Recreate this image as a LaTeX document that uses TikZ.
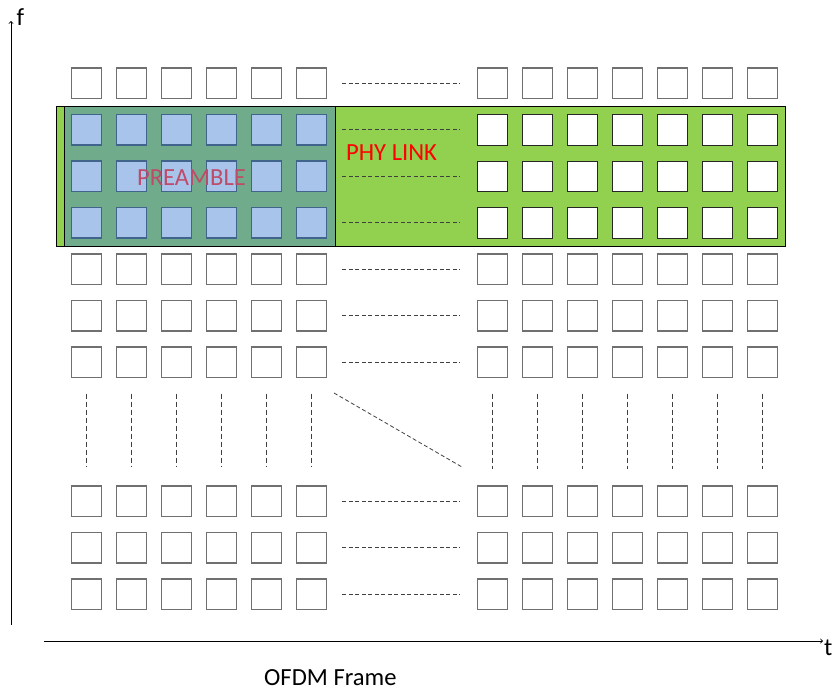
\documentclass[tikz,border=0pt]{standalone}
\usepackage{fontspec}
\setmainfont{Carlito}
\definecolor{linkgreen}{RGB}{146,208,80}
\definecolor{preamgreen}{RGB}{112,172,140}
\definecolor{cellblue}{RGB}{169,196,234}
\definecolor{cellblueline}{RGB}{65,100,140}
\definecolor{cellgray}{RGB}{112,112,112}
\definecolor{preamtext}{RGB}{190,75,105}
\begin{document}
\begin{tikzpicture}[x=1pt,y=-1pt,
  cell/.style={draw=cellgray,fill=white,line width=1.1pt,minimum width=30pt,minimum height=30.5pt,inner sep=0pt},
  linkcell/.style={cell,draw=black!85,line width=0.9pt},
  preamcell/.style={cell,draw=cellblueline,fill=cellblue},
  gap/.style={dashed,dash pattern=on 4pt off 2.5pt,draw=black!75,line width=0.8pt},
  lbl/.style={font=\fontsize{24.6}{28}\selectfont,inner sep=0pt}]
\useasboundingbox (0,0) rectangle (832,693);

\draw[fill=linkgreen,line width=0.8pt] (56.7,106.7) rectangle (785.7,246);
\draw[fill=preamgreen,line width=0.8pt] (64.3,106.7) rectangle (335,246);

\foreach \r/\y in {0/68,1/114.5,2/161,3/207.5,4/254,5/300.5,6/347,7/486,8/532.5,9/579}{
  \foreach \c in {1,...,6}{
    \ifnum\r>0 \ifnum\r<4
      \node[preamcell] (L-\r-\c) at (41.7+45*\c,\y+15.25) {};
    \else
      \node[cell] (L-\r-\c) at (41.7+45*\c,\y+15.25) {};
    \fi\else
      \node[cell] (L-\r-\c) at (41.7+45*\c,\y+15.25) {};
    \fi
  }
  \foreach \c in {1,...,7}{
    \ifnum\r>0 \ifnum\r<4
      \node[linkcell] (R-\r-\c) at (447.3+45*\c,\y+15.25) {};
    \else
      \node[cell] (R-\r-\c) at (447.3+45*\c,\y+15.25) {};
    \fi\else
      \node[cell] (R-\r-\c) at (447.3+45*\c,\y+15.25) {};
    \fi
  }
  \draw[gap,shorten <=15pt,shorten >=17pt] (L-\r-6.east) -- (R-\r-1.west);
}

\foreach \c in {1,...,6}
  \draw[gap,dash pattern=on 5pt off 3pt,shorten <=15.5pt,shorten >=18pt] (L-6-\c.south) -- (L-7-\c.north);
\foreach \c in {1,...,7}
  \draw[gap,dash pattern=on 5pt off 3pt,shorten <=15.5pt,shorten >=16pt] (R-6-\c.south) -- (R-7-\c.north);

\coordinate (d0) at (334,393);
\coordinate (d1) at (462,467);
\draw[gap] (d0) -- (d1);

\node[lbl,text=preamtext,anchor=base] (preamble) at (191.5,185) {PREAMBLE};
\node[lbl,text=red,anchor=base west] (phylink) at (346,160) {PHY LINK};

\coordinate (f0) at (11,625);
\coordinate (f1) at (11,21);
\coordinate (t0) at (44,641);
\coordinate (t1) at (823,641);
\draw[->,line width=0.9pt] (f0) -- (f1);
\draw[->,line width=0.9pt] (t0) -- (t1);
\node[lbl,anchor=base west] (flabel) at (16.5,26) {f};
\node[lbl,anchor=base west] (tlabel) at (824,655) {t};
\node[lbl,anchor=base west] (frame) at (264,685) {OFDM Frame};
\end{tikzpicture}
\end{document}
